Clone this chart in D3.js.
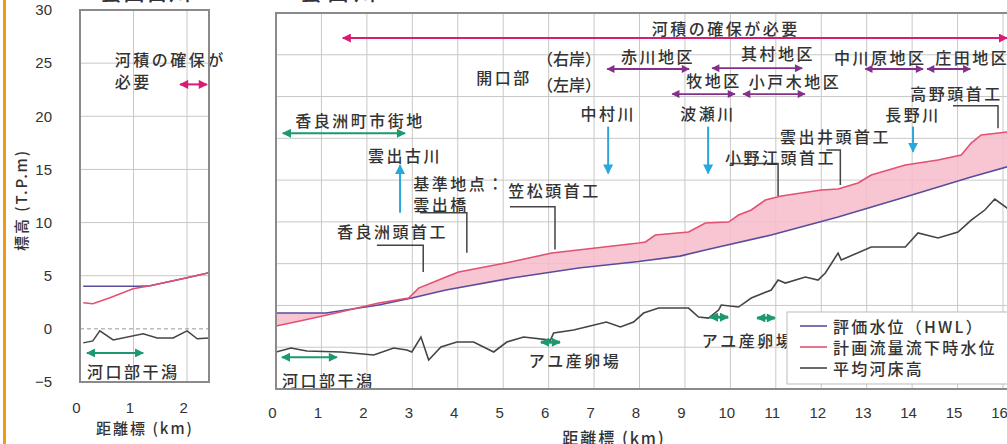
<!DOCTYPE html>
<html>
<head>
<meta charset="utf-8">
<script src="https://cdn.jsdelivr.net/npm/d3@7"></script>
<style>
  html, body { margin: 0; padding: 0; background: #fff; overflow: hidden; }
  svg { display: block; font-family: "Noto Sans CJK JP", "Noto Sans", sans-serif; }
</style>
</head>
<body>
<svg id="chart" width="1007" height="444"></svg>
<script>
// ---------- 雲出古川 (distance km / elevation T.P. m) ----------
const furuPlanKm = [0.06, 0.24, 0.56, 0.99, 1.31, 2.0, 2.41];
const furuPlan   = [2.45, 2.36, 2.92, 3.77, 4.06, 4.81, 5.28];
const furuHwlKm  = [0.06, 1.1, 1.31, 2.0, 2.41];
const furuHwl    = [4.0, 4.0, 4.06, 4.81, 5.28];
const furuBedKm  = [0.06, 0.24, 0.37, 0.62, 1.18, 1.44, 1.74, 2.0, 2.19, 2.41];
const furuBed    = [-1.32, -1.13, -0.19, -1.04, -0.47, -0.85, -0.85, -0.19, -0.94, -0.85];
const furuXTicks = [0, 1, 2];
const furuYTicks = [-5, 0, 5, 10, 15, 20, 25, 30];

// ---------- 雲出川 ----------
const mainPlanKm = [0, 0.5, 1.32, 2.26, 2.92, 3.14, 3.74, 4.02, 5.05, 6.07, 7.03, 7.98, 8.13, 8.35,
                    9.08, 9.45, 9.96, 10.18, 10.46, 10.77, 11.12, 12.0, 12.37, 12.81, 13.10, 13.85,
                    14.57, 15.08, 15.30, 15.52, 16.1];
const mainPlan   = [2.54, 3.1, 4.09, 5.29, 5.89, 7.08, 8.40, 9.0, 10.08, 11.27, 11.87, 12.47, 12.59, 13.43,
                    13.79, 14.86, 14.98, 15.82, 16.42, 17.62, 18.10, 18.81, 18.93, 19.65, 20.61, 21.81,
                    22.40, 23.00, 24.44, 25.40, 25.76];
const mainHwlKm  = [0, 1.1, 2.26, 2.99, 3.74, 5.19, 6.66, 7.98, 8.89, 9.45, 10.90, 12.37, 13.85, 15.30, 16.1];
const mainHwl    = [4.09, 4.09, 5.05, 5.89, 6.85, 8.28, 9.48, 10.25, 10.9, 11.63, 13.43, 15.58, 17.98, 20.37, 21.6];
const mainBedKm  = [0, 0.33, 0.68, 1.43, 2.15, 2.59, 2.88, 2.99, 3.19, 3.36, 3.63, 3.98, 4.35, 4.79, 5.08,
                    5.45, 6.04, 6.11, 6.55, 7.27, 7.58, 7.87, 8.09, 8.42, 9.08, 9.30, 9.52, 9.74, 9.80,
                    10.18, 10.46, 10.90, 11.05, 11.21, 11.65, 11.93, 12.09, 12.37, 12.44, 13.10, 13.85,
                    14.13, 14.57, 15.01, 15.30, 15.60, 15.82, 16.1];
const mainBed    = [-0.57, -0.1, -0.45, -0.57, -0.93, -0.1, -0.33, -0.57, 1.22, -1.53, 0.02, 0.62, 0.62, -0.57, 0.62,
                    1.22, 0.86, 1.70, 2.06, 3.02, 2.42, 3.02, 4.09, 4.69, 4.69, 3.61, 3.49, 4.45, 5.05,
                    4.81, 5.89, 6.85, 8.04, 7.68, 8.40, 8.04, 8.88, 11.27, 10.44, 11.99, 11.99,
                    13.67, 13.07, 13.79, 15.22, 16.42, 17.74, 16.6];
const mainXTicks = d3.range(0, 17);
const mainYGrid  = [0, 5, 10, 15, 20, 25, 30, 35];

// colours
const C = {
  plan: "#e4506f", fill: "#f7bccb", hwl: "#5a4c9c", bed: "#444",
  need: "#d81b73", district: "#84308a", river: "#2aa8dc", green: "#1d9870",
  grid: "#c8c8c8", frame: "#8a8a8a", text: "#333", leader: "#444"
};

const svg = d3.select("#chart");
const defs = svg.append("defs");

function marker(id, color, w, h) {
  defs.append("marker")
    .attr("id", id).attr("viewBox", "0 0 10 10")
    .attr("refX", 9).attr("refY", 5)
    .attr("markerWidth", w).attr("markerHeight", h)
    .attr("markerUnits", "userSpaceOnUse")
    .attr("orient", "auto-start-reverse")
    .append("path").attr("d", "M0,0L10,5L0,10z").attr("fill", color);
}
marker("mNeed", C.need, 10, 9);
marker("mDist", C.district, 9, 8);
marker("mRiver", C.river, 10, 10);
marker("mGreen", C.green, 10, 9);

// orange side rule
svg.append("rect").attr("x", 3).attr("y", 0).attr("width", 3).attr("height", 444).attr("fill", "#f39a10");

// panel titles (run off the top edge)
svg.append("text").attr("x", 100).attr("y", 0).attr("font-size", 22).attr("letter-spacing", 1)
  .attr("font-weight", 500).attr("fill", C.text).text("雲出古川");
svg.append("text").attr("x", 300).attr("y", 0).attr("font-size", 22).attr("letter-spacing", 5)
  .attr("font-weight", 500).attr("fill", C.text).text("雲出川");

function zip(k, v) { return k.map((d, i) => [d, v[i]]); }

function label(g, x, y, txt, opts = {}) {
  return g.append("text")
    .attr("x", x).attr("y", y)
    .attr("dominant-baseline", "central")
    .attr("text-anchor", opts.anchor || "start")
    .attr("font-size", opts.size || 16)
    .attr("font-weight", 500)
    .attr("letter-spacing", opts.ls == null ? 2.5 : opts.ls)
    .attr("fill", C.text)
    .text(txt);
}

function arrowLine(g, x1, y1, x2, y2, color, mk, both, w) {
  const l = g.append("line").attr("x1", x1).attr("y1", y1).attr("x2", x2).attr("y2", y2)
    .attr("stroke", color).attr("stroke-width", w || 2)
    .attr("marker-end", `url(#${mk})`);
  if (both) l.attr("marker-start", `url(#${mk})`);
  return l;
}

// ================= left panel: 雲出古川 =================
{
  const x = d3.scaleLinear([0, 2.41], [80, 209]);
  const y = d3.scaleLinear([-5, 30], [382, 10]);
  const g = svg.append("g");
  defs.append("clipPath").attr("id", "clipL").append("rect")
    .attr("x", 80).attr("y", 10).attr("width", 129).attr("height", 372);

  // grid
  g.selectAll(".vg").data([1, 2]).join("line")
    .attr("x1", d => x(d)).attr("x2", d => x(d)).attr("y1", y(30)).attr("y2", y(-5))
    .attr("stroke", C.grid);
  g.selectAll(".hg").data([5, 10, 15, 20, 25]).join("line")
    .attr("x1", x(0)).attr("x2", x(2.41)).attr("y1", d => y(d)).attr("y2", d => y(d))
    .attr("stroke", C.grid);
  g.append("line").attr("x1", x(0)).attr("x2", x(2.41)).attr("y1", y(0)).attr("y2", y(0))
    .attr("stroke", "#999").attr("stroke-dasharray", "4,3");

  const line = d3.line().x(d => x(d[0])).y(d => y(d[1]));
  const pl = g.append("g").attr("clip-path", "url(#clipL)");
  pl.append("path").attr("d", line(zip(furuHwlKm, furuHwl))).attr("fill", "none")
    .attr("stroke", C.hwl).attr("stroke-width", 1.5);
  pl.append("path").attr("d", line(zip(furuPlanKm, furuPlan))).attr("fill", "none")
    .attr("stroke", C.plan).attr("stroke-width", 1.5);
  pl.append("path").attr("d", line(zip(furuBedKm, furuBed))).attr("fill", "none")
    .attr("stroke", C.bed).attr("stroke-width", 1.5);

  // annotations
  label(g, x(0.65), y(25.4), "河積の確保が");
  label(g, x(0.65), y(23.3), "必要");
  arrowLine(g, x(1.87), y(23.0), x(2.37), y(23.0), C.need, "mNeed", true);
  arrowLine(g, x(0.13), y(-2.26), x(1.18), y(-2.26), C.green, "mGreen", true);
  label(g, x(0.13), y(-3.96), "河口部干潟");

  // frame
  g.append("rect").attr("x", 80).attr("y", 10).attr("width", 129).attr("height", 372)
    .attr("fill", "none").attr("stroke", C.frame).attr("stroke-width", 2);

  // axes
  const ax = g.append("g").attr("transform", "translate(0,382)")
    .call(d3.axisBottom(x).tickValues(furuXTicks).tickSize(0).tickPadding(20).tickFormat(d3.format("d")));
  ax.select(".domain").remove();
  ax.selectAll("text").attr("dx", -4).attr("font-size", 15).attr("font-family", "Liberation Sans, sans-serif").attr("fill", C.text);
  const ay = g.append("g").attr("transform", "translate(80,0)")
    .call(d3.axisLeft(y).tickValues(furuYTicks).tickSize(0).tickPadding(28));
  ay.select(".domain").remove();
  ay.selectAll("text").attr("font-size", 15).attr("font-family", "Liberation Sans, sans-serif").attr("fill", C.text);

  g.append("text").attr("x", 145).attr("y", 427).attr("text-anchor", "middle")
    .attr("dominant-baseline", "central").attr("font-size", 15).attr("font-weight", 500)
    .attr("letter-spacing", 2).attr("fill", C.text).text("距離標 (km)");
  g.append("text").attr("transform", "translate(20,200) rotate(-90)").attr("text-anchor", "middle")
    .attr("dominant-baseline", "central").attr("font-size", 15).attr("font-weight", 500)
    .attr("letter-spacing", 2).attr("fill", C.text).text("標高 (T.P.m)");
}

// ================= right panel: 雲出川 =================
{
  const x = d3.scaleLinear([0, 16], [276, 1003]);
  const y = d3.scaleLinear([-5, 40], [389, 13]);
  const g = svg.append("g");
  const right = 1012;
  defs.append("clipPath").attr("id", "clipR").append("rect")
    .attr("x", 276).attr("y", 13).attr("width", right - 276).attr("height", 376);

  // grid
  g.selectAll(".vg").data(mainXTicks.slice(1)).join("line")
    .attr("x1", d => x(d)).attr("x2", d => x(d)).attr("y1", y(40)).attr("y2", y(-5))
    .attr("stroke", C.grid);
  g.selectAll(".hg").data(mainYGrid).join("line")
    .attr("x1", x(0)).attr("x2", right).attr("y1", d => y(d)).attr("y2", d => y(d))
    .attr("stroke", C.grid);

  const pl = g.append("g").attr("clip-path", "url(#clipR)");
  // band between planned-flow level and HWL
  const planF = d3.scaleLinear(mainPlanKm, mainPlan);
  const hwlF = d3.scaleLinear(mainHwlKm, mainHwl);
  const bandKm = Array.from(new Set([...mainPlanKm, ...mainHwlKm])).sort((a, b) => a - b);
  pl.append("path")
    .attr("d", d3.area().x(d => x(d)).y0(d => y(hwlF(d))).y1(d => y(planF(d)))(bandKm))
    .attr("fill", C.fill).attr("opacity", 0.85);

  const line = d3.line().x(d => x(d[0])).y(d => y(d[1]));
  pl.append("path").attr("d", line(zip(mainHwlKm, mainHwl))).attr("fill", "none")
    .attr("stroke", C.hwl).attr("stroke-width", 1.6);
  pl.append("path").attr("d", line(zip(mainPlanKm, mainPlan))).attr("fill", "none")
    .attr("stroke", C.plan).attr("stroke-width", 1.6);
  pl.append("path").attr("d", line(zip(mainBedKm, mainBed))).attr("fill", "none")
    .attr("stroke", C.bed).attr("stroke-width", 1.6);

  // river-area requirement
  arrowLine(g, x(1.47), y(37.0), x(16.09), y(37.0), C.need, "mNeed", true);
  label(g, x(9.9), y(38.2), "河積の確保が必要", { anchor: "middle" });

  label(g, x(5.02), y(32.3), "開口部", { anchor: "middle" });
  label(g, x(6.45), y(34.6), "（右岸）", { anchor: "middle", ls: 0 });
  label(g, x(6.45), y(31.5), "（左岸）", { anchor: "middle", ls: 0 });

  // districts
  const districts = [
    { name: "赤川地区",   from: 7.29,  to: 9.09,  at: 33.3, tx: 8.41,  ty: 34.9, anchor: "middle" },
    { name: "其村地区",   from: 9.60,  to: 11.58, at: 33.4, tx: 11.05, ty: 35.2, anchor: "middle" },
    { name: "牧地区",     from: 8.72,  to: 10.10, at: 30.3, tx: 9.64,  ty: 32.0, anchor: "middle" },
    { name: "小戸木地区", from: 10.28, to: 11.64, at: 30.3, tx: 11.42, ty: 31.9, anchor: "middle" },
    { name: "中川原地区", from: 12.97, to: 14.24, at: 33.3, tx: 13.30, ty: 34.7, anchor: "middle" },
    { name: "庄田地区",   from: 14.33, to: 15.28, at: 33.3, tx: 14.51, ty: 34.7, anchor: "start" }
  ];
  districts.forEach(d => {
    arrowLine(g, x(d.from), y(d.at), x(d.to), y(d.at), C.district, "mDist", true, 1.8);
    label(g, x(d.tx), y(d.ty), d.name, { anchor: d.anchor });
  });

  // tributaries
  const tributaries = [
    { name: "中村川", km: 7.31,  top: 26.4, tip: 20.8, ty: 28.0 },
    { name: "波瀬川", km: 9.51,  top: 26.4, tip: 20.8, ty: 28.0 },
    { name: "長野川", km: 14.02, top: 26.4, tip: 23.4, ty: 27.9 }
  ];
  tributaries.forEach(d => {
    arrowLine(g, x(d.km), y(d.top), x(d.km), y(d.tip), C.river, "mRiver", false, 2);
    label(g, x(d.km), y(d.ty), d.name, { anchor: "middle" });
  });
  // 雲出古川 branch
  arrowLine(g, x(2.73), y(16.1), x(2.73), y(21.8), C.river, "mRiver", false, 2);
  label(g, x(2.84), y(23.0), "雲出古川", { anchor: "middle" });

  // urban area / tidal flat
  arrowLine(g, x(0.15), y(25.6), x(2.84), y(25.6), C.green, "mGreen", true);
  label(g, x(1.85), y(27.2), "香良洲町市街地", { anchor: "middle" });
  arrowLine(g, x(0.13), y(-1.2), x(1.34), y(-1.2), C.green, "mGreen", true);
  label(g, x(0.13), y(-3.9), "河口部干潟");

  // ayu spawning grounds
  const spawning = [
    { from: 5.83, to: 6.25, at: 0.6 },
    { from: 9.55, to: 9.95, at: 3.6 },
    { from: 10.59, to: 10.98, at: 3.5 }
  ];
  spawning.forEach(d => arrowLine(g, x(d.from), y(d.at), x(d.to), y(d.at), C.green, "mGreen", true, 3));
  label(g, x(6.58), y(-1.5), "アユ産卵場", { anchor: "middle" });
  label(g, x(10.39), y(0.9), "アユ産卵場", { anchor: "middle" });

  // weirs and reference point, with leader lines
  const weirs = [
    { name: "香良洲頭首工", tx: 1.34, ty: 13.9, h0: 2.22, km: 3.24, top: 12.2, end: 9.0 },
    { name: "笠松頭首工",   tx: 5.11, ty: 18.8, h0: 5.15, km: 6.14, top: 16.8, end: 11.7 },
    { name: "小野江頭首工", tx: 9.88, ty: 22.8, h0: 9.99, km: 11.05, top: 22.0, end: 18.1 },
    { name: "雲出井頭首工", tx: 11.09, ty: 25.3, h0: 12.11, km: 12.42, top: 23.6, end: 19.4 },
    { name: "高野頭首工",   tx: 13.96, ty: 30.4, h0: 14.90, km: 15.89, top: 28.9, end: 26.2 }
  ];
  weirs.forEach(d => {
    g.append("polyline")
      .attr("points", [[x(d.h0), y(d.top)], [x(d.km), y(d.top)], [x(d.km), y(d.end)]].map(p => p.join(",")).join(" "))
      .attr("fill", "none").attr("stroke", C.leader).attr("stroke-width", 1.5);
    label(g, x(d.tx), y(d.ty), d.name);
  });
  label(g, x(3.02), y(19.7), "基準地点：");
  label(g, x(3.02), y(17.1), "雲出橋");
  g.append("polyline")
    .attr("points", [[x(3.17), y(16.1)], [x(4.20), y(16.1)], [x(4.20), y(11.3)]].map(p => p.join(",")).join(" "))
    .attr("fill", "none").attr("stroke", C.leader).attr("stroke-width", 1.5);

  // legend
  const lg = g.append("g");
  lg.append("rect").attr("x", 787).attr("y", 312).attr("width", 240).attr("height", 72)
    .attr("fill", "#fff").attr("stroke", "#bbb");
  const legend = [
    { name: "評価水位（HWL）", color: C.hwl },
    { name: "計画流量流下時水位", color: C.plan },
    { name: "平均河床高", color: C.bed }
  ];
  legend.forEach((d, i) => {
    const ly = 326 + i * 21;
    lg.append("line").attr("x1", 800).attr("x2", 827).attr("y1", ly).attr("y2", ly)
      .attr("stroke", d.color).attr("stroke-width", 1.6);
    label(lg, 833, ly, d.name, { ls: 2.2 });
  });

  // frame
  g.append("rect").attr("x", 276).attr("y", 13).attr("width", right - 276).attr("height", 376)
    .attr("fill", "none").attr("stroke", C.frame).attr("stroke-width", 2);

  // axis
  const ax = g.append("g").attr("transform", "translate(0,389)")
    .call(d3.axisBottom(x).tickValues(mainXTicks).tickSize(0).tickPadding(18).tickFormat(d3.format("d")));
  ax.select(".domain").remove();
  ax.selectAll("text").attr("dx", -4).attr("font-size", 15).attr("font-family", "Liberation Sans, sans-serif").attr("fill", C.text);
  g.append("text").attr("x", 614).attr("y", 437).attr("text-anchor", "middle")
    .attr("dominant-baseline", "central").attr("font-size", 16).attr("font-weight", 500)
    .attr("letter-spacing", 2).attr("fill", C.text).text("距離標 (km)");
}
</script>
</body>
</html>
